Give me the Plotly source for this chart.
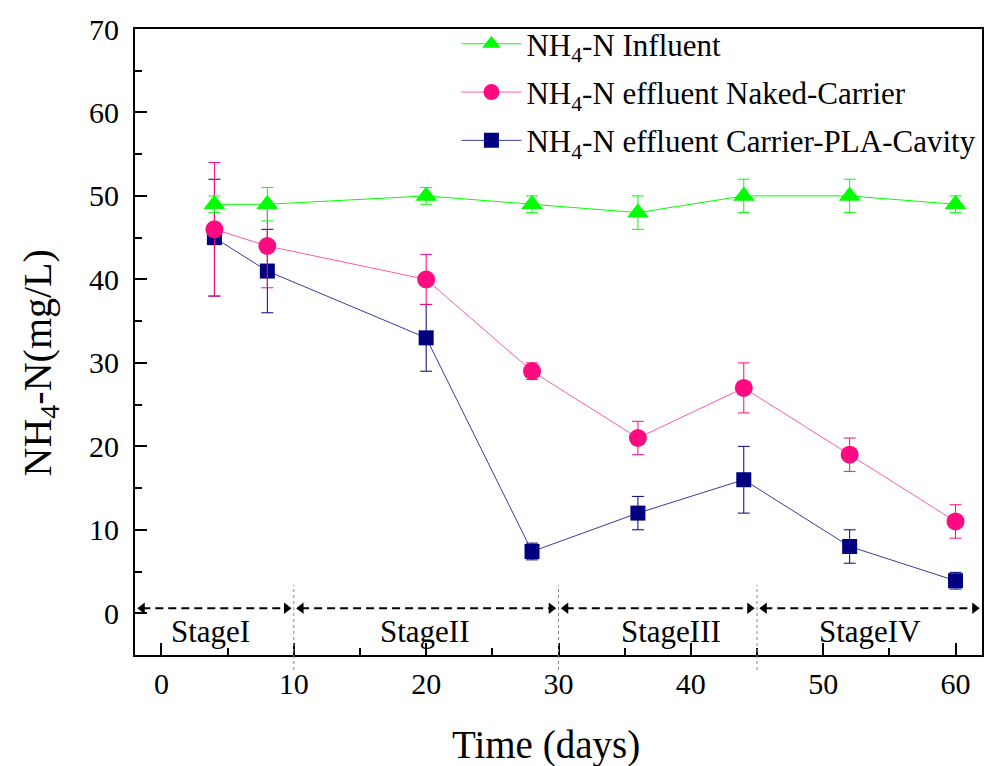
import plotly.graph_objects as go

# ---- data ----
days = [4, 8, 20, 28, 36, 44, 52, 60]
influent = [49, 49, 50, 49, 48, 50, 50, 49]
influent_err = [1, 2, 1, 1, 2, 2, 2, 1]
naked = [46, 44, 40, 29, 21, 27, 19, 11]
naked_err = [8, 5, 3, 1, 2, 3, 2, 2]
pla = [45, 41, 33, 7.4, 12, 16, 8, 3.9]
pla_err = [7, 5, 4, 1, 2, 4, 2, 1]

stage_names = ["StageI", "StageII", "StageIII", "StageIV"]
stage_bounds = [-2, 10, 30, 45, 62]
stage_label_x = [3.7, 19.9, 38.5, 53.5]
arrow_y = 0.6

x_ticks = [0, 10, 20, 30, 40, 50, 60]
y_ticks = [0, 10, 20, 30, 40, 50, 60, 70]

FONT = "Liberation Serif"
GREEN = "#00FF00"
PINK = "#FF0A80"
NAVY = "#000080"

fig = go.Figure()

fig.add_trace(go.Scatter(
    x=days, y=pla, mode="lines+markers", name="NH<sub>4</sub>-N effluent Carrier-PLA-Cavity",
    legendgroup="c", legendrank=3, line=dict(color="#3A3AA0", width=1),
    marker=dict(symbol="square", size=15, color=NAVY),
    error_y=dict(type="data", array=pla_err, color=NAVY, thickness=1, width=6),
))
fig.add_trace(go.Scatter(
    x=days, y=naked, mode="lines+markers", name="NH<sub>4</sub>-N effluent Naked-Carrier",
    legendgroup="b", legendrank=2, line=dict(color="#FF5AA8", width=1),
    marker=dict(symbol="circle", size=18, color=PINK),
    error_y=dict(type="data", array=naked_err, color=PINK, thickness=1, width=6),
))
fig.add_trace(go.Scatter(
    x=days, y=influent, mode="lines+markers", name="NH<sub>4</sub>-N Influent",
    legendgroup="a", legendrank=1, line=dict(color=GREEN, width=1),
    marker=dict(symbol="triangle-up", size=19, color=GREEN),
    error_y=dict(type="data", array=influent_err, color=GREEN, thickness=1, width=6),
))

# stage arrows
pad = 0.55
left_x, right_x = [], []
for i in range(len(stage_names)):
    a = stage_bounds[i] + pad
    b = stage_bounds[i + 1] - pad
    left_x.append(a)
    right_x.append(b)
    fig.add_shape(type="line", xref="x", yref="y", x0=a, x1=b, y0=arrow_y, y1=arrow_y,
                  line=dict(color="black", width=2, dash="8px,5px"))
fig.add_trace(go.Scatter(x=left_x, y=[arrow_y] * len(left_x), mode="markers", showlegend=False,
                         marker=dict(symbol="triangle-left", size=10, color="black"),
                         cliponaxis=False, hoverinfo="skip"))
fig.add_trace(go.Scatter(x=right_x, y=[arrow_y] * len(right_x), mode="markers", showlegend=False,
                         marker=dict(symbol="triangle-right", size=10, color="black"),
                         cliponaxis=False, hoverinfo="skip"))

# stage boundaries (dotted)
for bnd in stage_bounds[1:-1]:
    fig.add_shape(type="line", xref="x", yref="paper", x0=bnd, x1=bnd, y0=-0.024, y1=0.112,
                  line=dict(color="#888888", width=1, dash="dot"))

for name, sx in zip(stage_names, stage_label_x):
    fig.add_annotation(x=sx, y=-2.2, xref="x", yref="y", text=name, showarrow=False,
                       font=dict(family=FONT, size=31, color="black"))

# axis titles
fig.add_annotation(x=0.485, y=-0.144, xref="paper", yref="paper", text="Time (days)",
                   showarrow=False, xanchor="center", yanchor="middle",
                   font=dict(family=FONT, size=39, color="black"))
fig.add_annotation(x=-0.112, y=0.466, xref="paper", yref="paper", text="NH<sub>4</sub>-N(mg/L)",
                   showarrow=False, textangle=-90, xanchor="center", yanchor="middle",
                   font=dict(family=FONT, size=40, color="black"))

fig.update_layout(
    width=989, height=766,
    margin=dict(l=135, r=7, t=29, b=111),
    paper_bgcolor="white", plot_bgcolor="white",
    font=dict(family=FONT, color="black"),
    showlegend=True,
    legend=dict(x=0.3795, y=1.019, xanchor="left", yanchor="top", bgcolor="rgba(0,0,0,0)",
                font=dict(family=FONT, size=31, color="black"),
                traceorder="grouped", tracegroupgap=5, itemwidth=60),
    xaxis=dict(range=[-2, 62], tickvals=x_ticks, ticks="inside", ticklen=12, tickwidth=2,
               tickcolor="black", showline=True, linecolor="black", linewidth=2, mirror=True,
               showgrid=False, zeroline=False, automargin=False,
               minor=dict(dtick=5, ticks="inside", ticklen=7, tickwidth=2, tickcolor="black"),
               tickfont=dict(family=FONT, size=30, color="black"), ticklabelstandoff=1),
    yaxis=dict(range=[-5, 70], tickvals=y_ticks, ticks="inside", ticklen=12, tickwidth=2,
               tickcolor="black", showline=True, linecolor="black", linewidth=2, mirror=True,
               showgrid=False, zeroline=False, automargin=False,
               minor=dict(dtick=5, ticks="inside", ticklen=7, tickwidth=2, tickcolor="black"),
               tickfont=dict(family=FONT, size=30, color="black"), ticklabelstandoff=8),
)

fig.write_html("out.html", config={"displayModeBar": False})

# remove default page margin so the figure sits at the window origin
with open("out.html", "r", encoding="utf-8") as f:
    html = f.read()
html = html.replace("<head>", "<head><style>html,body{margin:0;padding:0;overflow:hidden;}</style>", 1)
with open("out.html", "w", encoding="utf-8") as f:
    f.write(html)
